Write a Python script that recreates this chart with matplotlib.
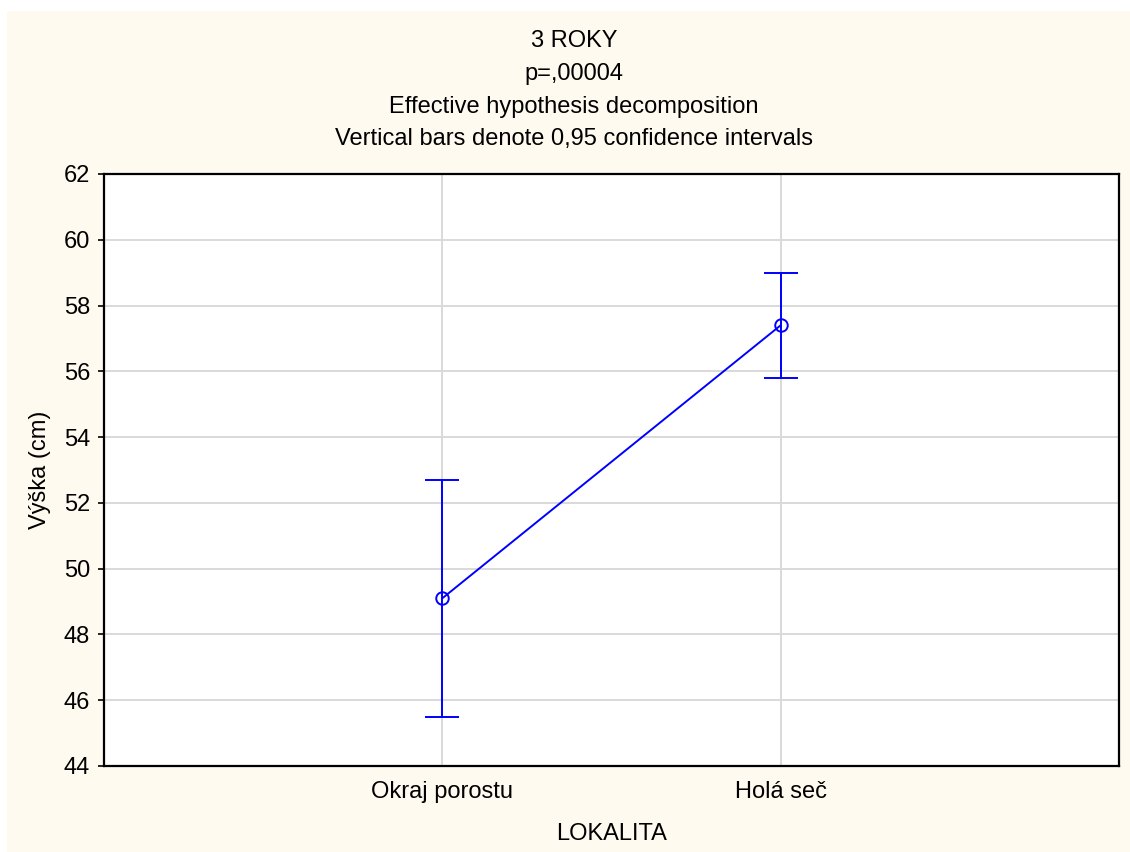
import numpy as np
import matplotlib
matplotlib.use("Agg")
import matplotlib.pyplot as plt
from matplotlib.patches import Rectangle

# datos
lokalita = ["Okraj porostu", "Holá seč"]
priemer = [49.1, 57.4]
horna = [52.7, 59.0]
dolna = [45.5, 55.8]
y_ticks = [44, 46, 48, 50, 52, 54, 56, 58, 60, 62]
titulky = ["3 ROKY", "p=,00004", "Effective hypothesis decomposition",
           "Vertical bars denote 0,95 confidence intervals"]

plt.rcParams['font.family'] = ['Liberation Sans', 'DejaVu Sans']
fs = 17

W, H = 1130, 852
fig = plt.figure(figsize=(W / 100, H / 100), dpi=100)
fig.patch.set_facecolor("white")
# fondo crema con borde blanco arriba/izquierda
fig.patches.append(Rectangle((7 / W, 0), 1 - 7 / W, 1 - 11 / H, transform=fig.transFigure,
                             facecolor="#fffaf0", edgecolor="none", zorder=-1))

ax = fig.add_axes([104 / W, 1 - 766 / H, (1119 - 104) / W, (766 - 174) / H])
ax.set_facecolor("white")

x = np.arange(len(lokalita))
yerr = [np.array(priemer) - np.array(dolna), np.array(horna) - np.array(priemer)]
ax.errorbar(x, priemer, yerr=yerr, color="#0000ff", lw=1.4, capsize=12, capthick=1.4,
            marker="o", markersize=9, markerfacecolor="none", markeredgewidth=1.4, zorder=3)

ax.set_xlim(-1, 2)
ax.set_ylim(44, 62)
ax.set_yticks(y_ticks)
ax.set_xticks(x)
ax.set_xticklabels(lokalita)
ax.grid(True, color="#d9d9d9", lw=1.4)
ax.set_axisbelow(True)
for s in ax.spines.values():
    s.set_linewidth(1.6)
    s.set_color("black")
ax.tick_params(axis="y", length=4, width=1.2, labelsize=fs, pad=6)
ax.tick_params(axis="x", length=0, labelsize=fs, pad=11)
ax.set_ylabel("Výška (cm)", fontsize=fs, labelpad=9)
ax.set_xlabel("LOKALITA", fontsize=fs, labelpad=14)

# titulos (linea base en pixeles)
ypos = [47, 80, 113, 145]
for t, yy in zip(titulky, ypos):
    fig.text(574 / W, 1 - yy / H, t, ha="center", va="baseline", fontsize=fs)

fig.savefig("out.png", dpi=100, facecolor=fig.get_facecolor())
